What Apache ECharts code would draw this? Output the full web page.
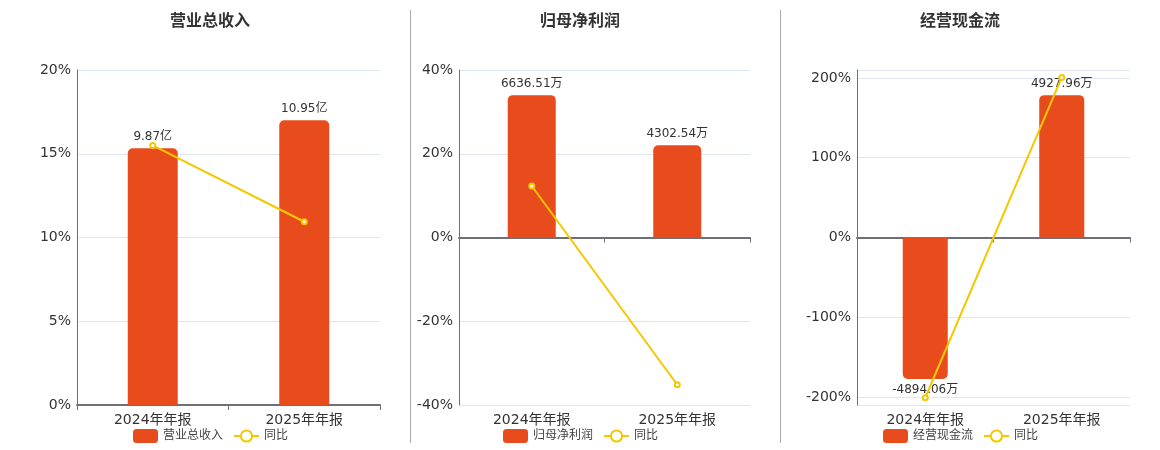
<!DOCTYPE html>
<html>
<head>
<meta charset="utf-8">
<script src="https://cdn.jsdelivr.net/npm/echarts@6/dist/echarts.min.js"></script>
<style>
html, body { margin: 0; padding: 0; background: #fff; }
#main { width: 1160px; height: 450px; }
</style>
</head>
<body>
<div id="main"></div>
<script>
var categories = ['2024年年报', '2025年年报'];
var titles = ['营业总收入', '归母净利润', '经营现金流'];
var units = ['亿', '万', '万'];

var revenue = [9.87, 10.95];
var revenueYoy = [15.5, 10.94];
var profit = [6636.51, 4302.54];
var profitYoy = [12.3, -35.17];
var cashflow = [-4894.06, 4927.96];
var cashflowYoy = [-200.9, 200.69];

// yoy axis ranges (%): min, max, label step
var yoyMin = [0, -40, -210];
var yoyMax = [20, 40, 210];
var yoyStep = [5, 20, 100];

var barValues = [revenue, profit, cashflow];
var yoyValues = [revenueYoy, profitYoy, cashflowYoy];

var BAR_COLOR = '#E84C1D';
var LINE_COLOR = '#F3C800';
var FONT = "'DejaVu Sans', 'Noto Sans CJK SC', sans-serif";

var panels = [
    { left: 77, width: 303, center: 210, legendLeft: 133 },
    { left: 459, width: 291, center: 580, legendLeft: 503 },
    { left: 857, width: 273, center: 960, legendLeft: 883 }
];

var option = {
    animation: false,
    textStyle: { fontFamily: FONT },
    title: [],
    legend: [],
    grid: [],
    xAxis: [],
    yAxis: [],
    series: [],
    graphic: [
        { type: 'line', shape: { x1: 410.5, y1: 10, x2: 410.5, y2: 443 }, style: { stroke: '#aaa', lineWidth: 1 } },
        { type: 'line', shape: { x1: 780.5, y1: 10, x2: 780.5, y2: 443 }, style: { stroke: '#aaa', lineWidth: 1 } }
    ]
};

panels.forEach(function (p, i) {
    var vals = barValues[i];
    var maxAbs = Math.max.apply(null, vals.map(Math.abs));
    var barMax = maxAbs / 0.85;
    var barMin = Math.min.apply(null, vals) < 0 || yoyMin[i] < 0 ? -barMax : 0;
    var step = yoyStep[i];

    option.title.push({
        text: titles[i],
        left: p.center,
        top: 14,
        padding: 0,
        textAlign: 'center',
        textStyle: { fontSize: 16, fontWeight: 'bold', color: '#333', fontFamily: FONT }
    });

    option.legend.push({
        data: [titles[i], '同比'],
        left: p.legendLeft,
        top: 429,
        padding: 0,
        itemGap: 10,
        itemWidth: 25,
        itemHeight: 14,
        textStyle: { fontSize: 12, color: '#444', fontFamily: FONT }
    });

    option.grid.push({ left: p.left, width: p.width, top: 70, height: 335 });

    // axis line on zero, with ticks
    option.xAxis.push({
        type: 'category',
        gridIndex: i,
        data: categories,
        axisLine: { onZero: true, lineStyle: { color: '#6E7079', width: 2 } },
        axisTick: { show: true, lineStyle: { color: '#6E7079' } },
        axisLabel: { show: false }
    });
    // labels at grid bottom
    option.xAxis.push({
        type: 'category',
        gridIndex: i,
        data: categories,
        position: 'bottom',
        axisLine: { show: false, onZero: false },
        axisTick: { show: false },
        axisLabel: { fontSize: 14, color: '#333', margin: 8, fontFamily: FONT }
    });

    var yoyAxis = {
        type: 'value',
        gridIndex: i,
        min: yoyMin[i],
        max: yoyMax[i],
        axisLine: { show: true, lineStyle: { color: '#6E7079' } },
        axisTick: { show: false },
        splitLine: { lineStyle: { color: '#E0E6F1' } },
        axisLabel: {
            fontSize: 14, color: '#333', margin: 6, fontFamily: FONT,
            formatter: function (v) {
                return Math.abs(v % step) < 1e-9 ? v + '%' : '';
            }
        }
    };
    if (yoyMin[i] % step === 0) yoyAxis.interval = step;
    option.yAxis.push(yoyAxis);

    option.yAxis.push({
        type: 'value',
        gridIndex: i,
        min: barMin,
        max: barMax,
        show: false,
        splitLine: { show: false }
    });

    option.series.push({
        name: titles[i],
        type: 'bar',
        xAxisIndex: i * 2,
        yAxisIndex: i * 2 + 1,
        barWidth: '33%',
        itemStyle: { color: BAR_COLOR },
        data: vals.map(function (v) {
            return {
                value: v,
                itemStyle: { borderRadius: v < 0 ? [0, 0, 5, 5] : [5, 5, 0, 0] },
                label: { position: v < 0 ? 'bottom' : 'top' }
            };
        }),
        label: {
            show: true,
            fontSize: 12,
            color: '#333',
            fontFamily: FONT,
            formatter: function (d) { return d.value.toFixed(2) + units[i]; }
        }
    });

    option.series.push({
        name: '同比',
        type: 'line',
        xAxisIndex: i * 2,
        yAxisIndex: i * 2,
        z: 5,
        symbol: 'emptyCircle',
        symbolSize: 5,
        itemStyle: { color: LINE_COLOR, borderWidth: 1.5 },
        lineStyle: { color: LINE_COLOR, width: 2 },
        data: yoyValues[i]
    });
});

var myChart = echarts.init(document.getElementById('main'));
myChart.setOption(option);
</script>
</body>
</html>
